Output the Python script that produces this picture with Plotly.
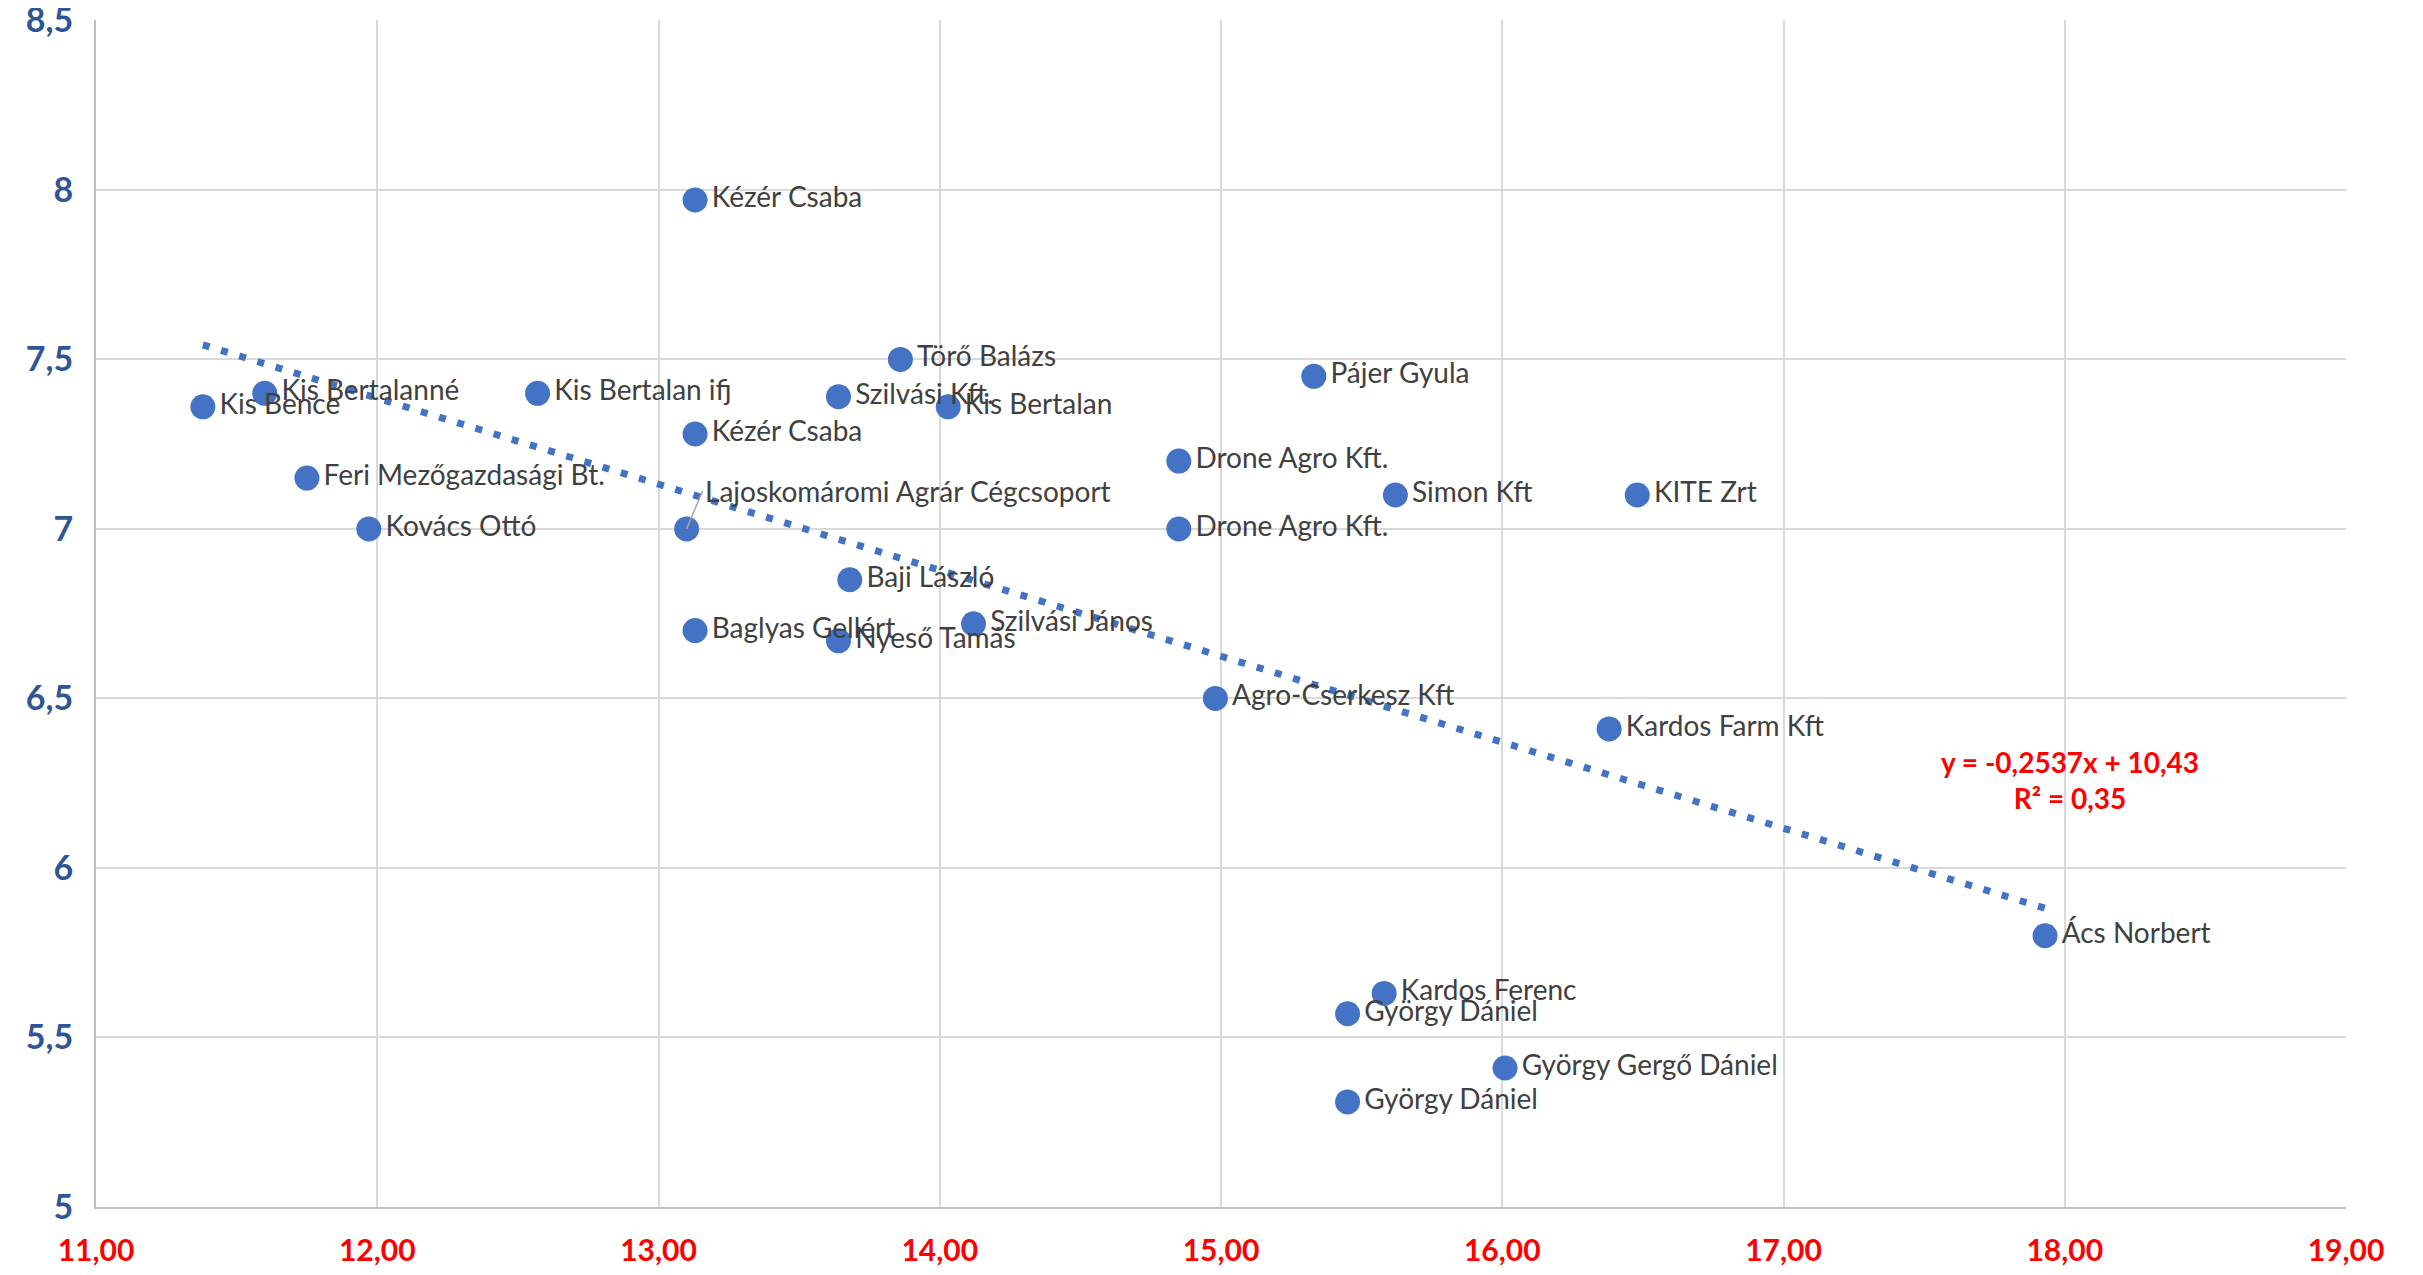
import plotly.graph_objects as go

# points
names = [
    "Kis Bence", "Kis Bertalanné", "Kis Bertalan ifj", "Feri Mezőgazdasági Bt.",
    "Kovács Ottó", "Kézér Csaba", "Kézér Csaba", "Lajoskomáromi Agrár Cégcsoport",
    "Törő Balázs", "Szilvási Kft.", "Kis Bertalan", "Baji László",
    "Baglyas Gellért", "Nyeső Tamás", "Szilvási János", "Pájer Gyula",
    "Drone Agro Kft.", "Drone Agro Kft.", "Simon Kft", "KITE Zrt",
    "Agro-Cserkesz Kft", "Kardos Farm Kft", "Ács Norbert", "Kardos Ferenc",
    "György Dániel", "György Gergő Dániel", "György Dániel",
]
x_vals = [
    11.38, 11.60, 12.57, 11.75, 11.97, 13.13, 13.13, 13.10,
    13.86, 13.64, 14.03, 13.68, 13.13, 13.64, 14.12, 15.33,
    14.85, 14.85, 15.62, 16.48, 14.98, 16.38, 17.93, 15.58,
    15.45, 16.01, 15.45,
]
y_vals = [
    7.36, 7.40, 7.40, 7.15, 7.00, 7.97, 7.28, 7.00,
    7.50, 7.39, 7.36, 6.85, 6.70, 6.67, 6.72, 7.45,
    7.20, 7.00, 7.10, 7.10, 6.50, 6.41, 5.80, 5.63,
    5.57, 5.41, 5.31,
]

slope = -0.2537
intercept = 10.43
trend_x = [min(x_vals), max(x_vals)]
trend_y = [slope * v + intercept for v in trend_x]

x_ticks = [11, 12, 13, 14, 15, 16, 17, 18, 19]
y_ticks = [5, 5.5, 6, 6.5, 7, 7.5, 8, 8.5]

LABEL_FONT = dict(family="Lato", size=28, color="#404040")
BLUE = "#4472C4"

# one label was moved away from its point in the original and got a leader line
moved = "Lajoskomáromi Agrár Cégcsoport"
point_text = ["" if n == moved else n for n in names]

fig = go.Figure()
fig.add_trace(
    go.Scatter(
        x=trend_x,
        y=trend_y,
        mode="lines",
        line=dict(color=BLUE, width=7, dash="7px,12px"),
        hoverinfo="skip",
    )
)
fig.add_trace(
    go.Scatter(
        x=x_vals,
        y=y_vals,
        mode="markers+text",
        text=point_text,
        textposition="middle right",
        textfont=LABEL_FONT,
        marker=dict(color=BLUE, size=25),
    )
)

i = names.index(moved)
fig.add_annotation(
    x=x_vals[i],
    y=y_vals[i],
    text=moved,
    showarrow=True,
    arrowhead=0,
    arrowwidth=1.5,
    arrowcolor="#a6a6a6",
    ax=16,
    ay=-38,
    xanchor="left",
    font=LABEL_FONT,
)

fig.add_annotation(
    x=18.02,
    y=6.26,
    text=f"y = {slope:.4f}x + {intercept:.2f}".replace(".", ",")
    + "<br>R² = 0,35",
    showarrow=False,
    font=dict(family="Lato", size=28, color="#FF0000", weight="bold"),
    align="center",
)

# the page puts the figure 8px in from the corner, so the size is cut to fit
fig.update_layout(
    width=2407,
    height=1259,
    showlegend=False,
    plot_bgcolor="white",
    paper_bgcolor="white",
    separators=", ",
    margin=dict(l=88, r=69, t=12, b=60),
    xaxis=dict(
        range=[11, 19],
        tickvals=x_ticks,
        tickformat=".2f",
        automargin=False,
        showgrid=True,
        gridcolor="#d9d9d9",
        gridwidth=2,
        showline=True,
        linecolor="#bfbfbf",
        linewidth=2,
        zeroline=False,
        ticks="",
        ticklabelstandoff=16,
        ticklabeloverflow="allow",
        tickfont=dict(family="Lato", size=30, color="#FF0000", weight="bold"),
    ),
    yaxis=dict(
        range=[5, 8.501],
        tickvals=y_ticks,
        automargin=False,
        showgrid=True,
        gridcolor="#d9d9d9",
        gridwidth=2,
        showline=True,
        linecolor="#bfbfbf",
        linewidth=2,
        zeroline=False,
        ticks="",
        ticklabelstandoff=14,
        ticklabeloverflow="allow",
        tickfont=dict(family="Lato", size=34, color="#2F5597", weight="bold"),
    ),
)

fig.write_html("out.html")
